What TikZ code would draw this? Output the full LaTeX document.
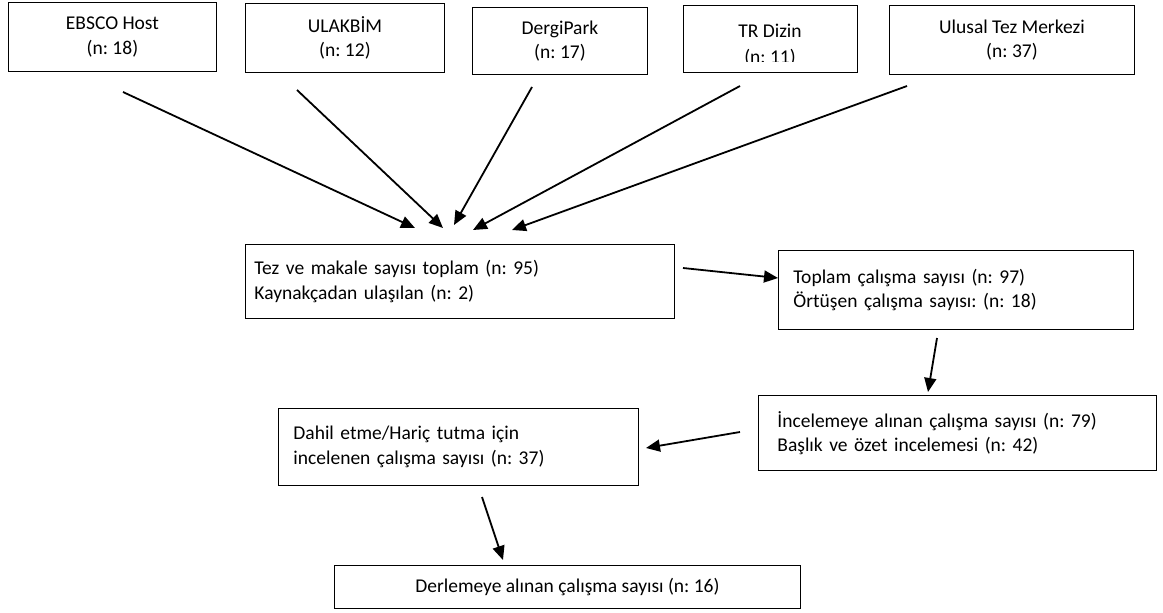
\documentclass[tikz,border=0pt]{standalone}
\usepackage{fontspec}
\setmainfont{Carlito}
\usetikzlibrary{arrows.meta}
\frenchspacing
\begin{document}
\begin{tikzpicture}[x=1pt,y=-1pt,
  txt/.style={font=\fontsize{19.5}{24.5}\selectfont},
  box/.style={draw, line width=0.9pt, rectangle, inner sep=0pt, txt},
  cbox/.style={box, align=center},
  lbox/.style={box, align=left},
  arr/.style={line width=1.8pt, -{Triangle[length=14pt,width=12pt]}}]
\fill[white] (0,0) rectangle (1163,613);
\useasboundingbox (0,0) rectangle (1163,613);

% top row
\node[cbox, anchor=north west, minimum width=208pt, minimum height=69pt] (ebsco) at (8,2) {EBSCO Host\\(n: 18)};
\node[cbox, anchor=north west, minimum width=199pt, minimum height=69pt] (ulak) at (245,3) {ULAKBİM\\(n: 12)};
\node[cbox, anchor=north west, minimum width=175pt, minimum height=67pt] (dergi) at (472,7) {DergiPark\\(n: 17)};
\node[box, anchor=north west, minimum width=174pt, minimum height=67pt] (trdizin) at (683,5) {};
\begin{scope}
  \clip (683,5) rectangle (857,61.5);
  \node[txt, inner sep=0pt, anchor=base] (trA) at (770,37) {TR Dizin};
  \node[txt, inner sep=0pt, anchor=base] (trB) at (770,63) {(n: 11)};
\end{scope}
\node[cbox, anchor=north west, minimum width=245pt, minimum height=69pt] (ulusal) at (889,5) {Ulusal Tez Merkezi\\(n: 37)};

% middle
\node[lbox, anchor=north west, minimum width=429pt, minimum height=74pt, text width=411pt, inner xsep=9pt] (tez) at (245,244) {Tez ve makale sayısı toplam (n: 95)\\Kaynakçadan ulaşılan (n: 2)};
\node[lbox, anchor=north west, minimum width=355pt, minimum height=79pt, text width=325pt, inner xsep=15pt] (toplam) at (778,250) {Toplam çalışma sayısı (n: 97)\\Örtüşen çalışma sayısı: (n: 18)};
\node[lbox, anchor=north west, minimum width=398pt, minimum height=75pt, text width=360pt, inner xsep=19pt] (incele) at (758,395) {İncelemeye alınan çalışma sayısı (n: 79)\\Başlık ve özet incelemesi (n: 42)};
\node[lbox, anchor=north west, minimum width=360pt, minimum height=77pt, text width=330pt, inner xsep=15pt] (dahil) at (278,408) {Dahil etme/Hariç tutma için\\incelenen çalışma sayısı (n: 37)};
\node[cbox, anchor=north west, minimum width=466pt, minimum height=43pt] (derleme) at (334,565) {Derlemeye alınan çalışma sayısı (n: 16)};

% arrow ends
\coordinate (s1) at (123,92);  \coordinate (e1) at (415,228);
\coordinate (s2) at (297,90);  \coordinate (e2) at (443,228);
\coordinate (s3) at (532,87);  \coordinate (e3) at (454,225);
\coordinate (s4) at (740,86);  \coordinate (e4) at (473,230);
\coordinate (s5) at (907,86);  \coordinate (e5) at (512,230);
\coordinate (s6) at (683,268); \coordinate (e6) at (778,278);
\coordinate (s7) at (937,338); \coordinate (e7) at (928,392);
\coordinate (s8) at (740,432); \coordinate (e8) at (646,448);
\coordinate (s9) at (482,497); \coordinate (e9) at (503,560);

\draw[arr] (s1) -- (e1);
\draw[arr] (s2) -- (e2);
\draw[arr] (s3) -- (e3);
\draw[arr] (s4) -- (e4);
\draw[arr] (s5) -- (e5);
\draw[arr] (s6) -- (e6);
\draw[arr] (s7) -- (e7);
\draw[arr] (s8) -- (e8);
\draw[arr] (s9) -- (e9);
\end{tikzpicture}
\end{document}
